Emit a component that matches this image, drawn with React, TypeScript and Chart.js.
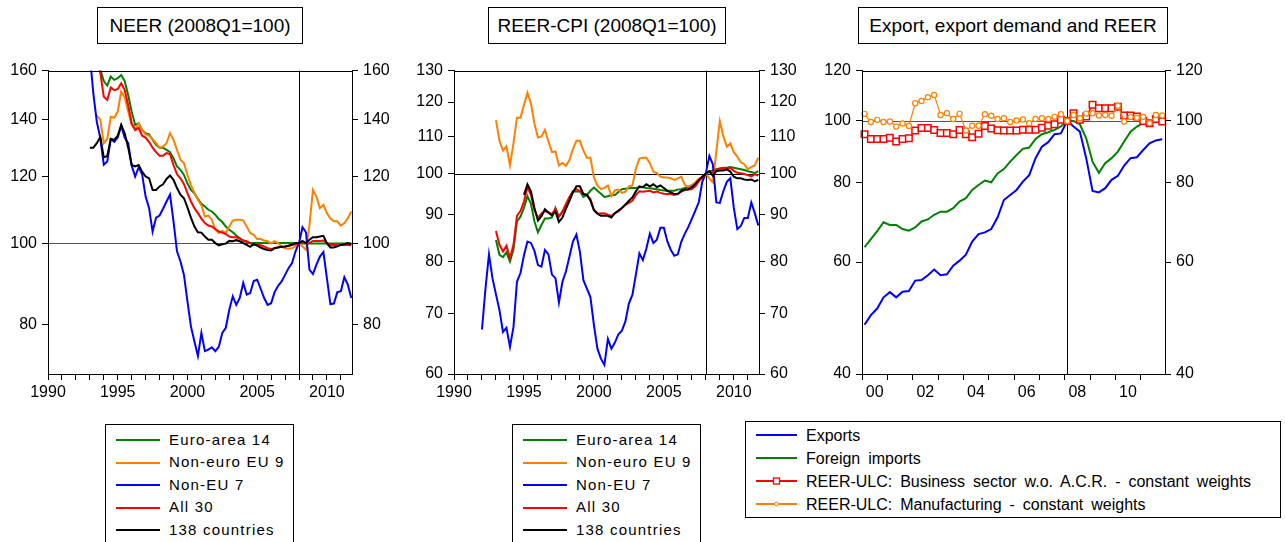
import React, { useEffect, useRef } from "react";
import { Chart, registerables } from "chart.js";

Chart.register(...registerables);

const FONT = '"Liberation Sans", Arial, Helvetica, sans-serif';

const GREEN = "#008000";
const ORANGE = "#FF8000";
const BLUE = "#0000FF";
const RED = "#FF0000";
const BLACK = "#000000";

// ---------- Panel 1: NEER (2008Q1=100), quarterly 1993Q1..2011Q4 ----------
const p1Start = { year: 1993, quarter: 1 };
const neerEA14 = [185, 178, 168, 160.5, 155.5, 153.6, 157.4, 156.0, 156.7, 158.1, 155.5, 149.7, 143.1, 138.0, 138.6, 136.1, 134.9, 134.5, 132.5, 130.7, 129.7, 129.7, 128.9, 128.1, 126.0, 123.2, 122.1, 120.4, 117.7, 115.6, 114.5, 112.8, 111.3, 110.5, 109.5, 109.0, 108.0, 106.8, 105.9, 104.6, 103.7, 103.0, 102.1, 101.4, 100.7, 100.3, 100.0, 100.0, 100, 100, 100, 100, 100, 100, 100, 100, 100, 100, 100, 100, 100, 99.9, 99.9, 99.9, 99.9, 99.9, 99.9, 99.9, 99.9, 99.9, 99.9, 99.9, 99.9, 99.9, 99.9, 99.9];
const neerNonEuro = [null, null, 141.5, 140, 131.3, 132.8, 141.1, 140.7, 143.1, 151.1, 148.7, 143.1, 138.0, 136.4, 138.6, 136.1, 134.5, 134.0, 132.8, 131.3, 129.7, 130.1, 131.3, 134.9, 132.5, 128.9, 125.5, 124.3, 120.4, 117.2, 114.6, 112.5, 110.8, 107.5, 107.8, 106.6, 103.7, 102.8, 103.4, 102.8, 104.6, 106.3, 106.6, 106.6, 106.4, 104.6, 102.8, 102.3, 101.1, 101.1, 100.7, 100.5, 99.9, 100.5, 100.0, 99.0, 98.6, 98.5, 98.6, 99.1, 100, 99.1, 98.2, 105, 115.6, 113.5, 110.0, 111.0, 108.5, 107.0, 106.1, 106.1, 104.9, 105.6, 107.0, 109.0];
const neerNonEU = [167, 150.4, 139.2, 133.1, 123.8, 124.9, 132.8, 131.8, 133.3, 137.7, 133.3, 131.3, 123.5, 119.9, 122.9, 120.6, 113.5, 110.0, 103.2, 107.2, 107.8, 109.8, 112.0, 114.1, 106.1, 97.8, 95.1, 91.7, 85.3, 79.7, 76.5, 73.5, 78.3, 74.5, 74.8, 75.3, 74.5, 75.4, 78.3, 79.4, 83.4, 86.5, 84.5, 86.1, 89.7, 86.9, 87.3, 90.2, 90.5, 88.3, 86.1, 84.5, 84.9, 87.5, 89.0, 90.1, 91.7, 93.4, 94.7, 97.8, 100, 104.4, 103.0, 93.0, 91.9, 94.3, 96.4, 97.6, 90.9, 84.7, 84.8, 87.5, 87.7, 91.1, 89.3, 86.1];
const neerAll30 = [180, 174, 166, 159, 149.0, 147.7, 152.8, 151.7, 152.2, 154.6, 151.7, 145.7, 138.6, 136.1, 136.9, 134.0, 133.3, 131.7, 129.7, 128.1, 126.9, 126.9, 127.8, 127.4, 123.7, 120.6, 119.3, 117.4, 114.6, 112.0, 110.0, 108.5, 106.9, 105.6, 104.9, 104.6, 103.9, 103.2, 102.9, 102.5, 101.8, 101.6, 101.6, 101.2, 100.7, 100.5, 100.0, 99.5, 99.7, 99.4, 99.1, 98.6, 98.4, 98.6, 98.9, 99.0, 99.1, 99.3, 99.5, 99.7, 100, 100.3, 99.9, 100, 100.6, 100.6, 100.6, 100.7, 100, 99.5, 99.5, 99.4, 99.5, 99.5, 99.5, 99.4];
const neer138 = [129.7, 129.7, 131.3, 133.5, 126.3, 126.8, 132.8, 132.5, 134.0, 138.0, 134.9, 129.7, 123.7, 123.2, 123.7, 121.5, 119.9, 119.3, 115.6, 115.6, 116.7, 117.4, 119.1, 120.2, 118.8, 116.2, 114.1, 113.0, 110.2, 107.2, 104.6, 103.0, 102.9, 101.8, 100.9, 100.9, 100.0, 99.4, 99.7, 99.9, 100.6, 100.5, 100.8, 100.5, 100.0, 99.5, 99.0, 99.7, 99.3, 98.8, 98.4, 98.1, 98.0, 98.6, 98.8, 99.0, 99.1, 99.3, 99.6, 100.0, 100, 100.6, 100, 100.9, 101.6, 101.6, 101.8, 102.0, 100.0, 98.8, 98.8, 99.1, 99.5, 99.7, 100.0, 99.7];
const p1YTicks = [80, 100, 120, 140, 160];
const p1YMin = 70;
const p1YMax = 160;

// ---------- Panel 2: REER-CPI (2008Q1=100), quarterly 1992Q1..2011Q4 ----------
const p2Start = { year: 1992, quarter: 1 };
const reerEA14 = [null, null, null, null, 84.4, 81.3, 80.8, 81.8, 79.9, 82.4, 88.5, 89.6, 91.6, 94.4, 92.6, 88.5, 86.1, 87.7, 89.2, 89.2, 89.4, 91.6, 89.6, 90.8, 92.4, 94.0, 95.5, 95.5, 95.6, 94.2, 94.7, 95.7, 96.5, 95.7, 95.0, 94.2, 94.4, 94.7, 94.7, 95.4, 96.1, 96.2, 96.3, 96.4, 96.4, 96.6, 96.6, 96.4, 96.3, 96.2, 96.1, 95.9, 95.8, 95.7, 95.7, 95.7, 96.0, 96.1, 96.4, 96.7, 97.1, 97.6, 98.3, 99.0, 100, 100.5, 100.8, 101.1, 101.3, 101.5, 101.5, 101.7, 101.5, 101.3, 101.1, 100.9, 100.6, 100.4, 100.1, 100.6];
const reerNonEuro = [null, null, null, null, 114.6, 108.7, 106.0, 107.2, 102.1, 108.0, 115.3, 115.3, 119.1, 122.9, 119.6, 113.6, 109.6, 109.9, 111.8, 108.5, 105.6, 105.8, 102.1, 102.7, 102.0, 103.5, 106.4, 108.7, 108.7, 106.0, 104.1, 104.1, 99.0, 97.0, 96.1, 96.4, 97.0, 94.4, 95.8, 96.0, 95.2, 95.5, 96.8, 97.0, 101.2, 103.9, 104.1, 104.1, 102.7, 100.5, 100.1, 99.2, 99.0, 99.0, 98.8, 98.4, 98.8, 99.2, 97.1, 96.7, 97.0, 97.8, 98.7, 99.2, 100, 98.8, 97.8, 105.8, 114.3, 110.0, 107.1, 108.0, 105.6, 104.4, 102.9, 102.4, 101.1, 101.7, 102.1, 104.1];
const reerNonEU = [67.2, 74.6, 81.4, 76.6, 73.5, 70.6, 66.8, 67.5, 64.3, 67.6, 75.9, 77.6, 81.2, 84.1, 83.8, 82.1, 79.2, 78.9, 82.3, 81.4, 77.3, 76.6, 72.0, 75.9, 77.9, 80.9, 84.1, 85.6, 81.9, 76.2, 74.6, 73.0, 68.0, 64.0, 62.4, 61.4, 65.6, 64.0, 65.0, 66.4, 67.0, 68.6, 71.8, 73.4, 77.3, 81.6, 80.2, 82.6, 85.8, 83.8, 84.5, 87.1, 87.1, 84.1, 82.3, 81.1, 81.4, 84.1, 85.8, 87.3, 89.1, 91.0, 93.0, 98.0, 100, 104.6, 102.4, 92.9, 92.8, 95.6, 97.9, 98.8, 91.6, 86.8, 87.5, 89.3, 89.3, 92.9, 90.4, 87.6];
const reerAll30 = [null, null, null, null, 86.4, 83.4, 82.0, 83.2, 80.6, 83.4, 89.8, 90.9, 93.1, 96.6, 94.7, 91.1, 89.3, 90.3, 90.9, 90.6, 90.2, 91.4, 89.6, 90.6, 92.5, 94.2, 95.6, 96.1, 95.6, 95.0, 94.6, 93.7, 91.2, 90.4, 90.3, 90.4, 90.0, 89.8, 90.4, 90.8, 91.6, 92.3, 92.8, 93.3, 94.7, 95.6, 95.5, 95.6, 95.7, 95.3, 95.5, 95.2, 95.0, 94.9, 94.9, 94.7, 94.9, 95.5, 95.9, 96.0, 96.1, 96.8, 98.1, 99.0, 100, 100.5, 100.2, 101.0, 101.3, 101.3, 101.0, 101.5, 100.7, 100.2, 100.1, 99.9, 99.6, 99.3, 99.8, 99.5];
const reer138 = [null, null, null, null, null, null, null, null, null, null, null, null, 94.7, 97.3, 95.6, 91.6, 88.7, 89.7, 91.3, 90.5, 89.9, 90.8, 88.4, 89.4, 91.4, 93.3, 95.3, 96.8, 96.8, 94.9, 94.7, 93.4, 91.1, 90.3, 89.8, 89.8, 89.8, 89.4, 90.4, 91.0, 91.6, 92.4, 93.3, 94.1, 95.6, 96.8, 96.6, 97.3, 96.8, 97.3, 96.6, 97.0, 96.4, 95.7, 95.3, 94.9, 95.0, 95.7, 96.0, 96.1, 96.6, 97.4, 98.4, 99.2, 100, 100.6, 99.4, 100.6, 100.8, 100.8, 101.1, 100.5, 99.2, 98.8, 98.8, 98.5, 98.4, 98.5, 98.0, 98.4];
const p2YTicks = [60, 70, 80, 90, 100, 110, 120, 130];
const p2YMin = 60;
const p2YMax = 130;

// ---------- Panel 3: Export, export demand and REER, quarterly 2000Q1..2011Q4 ----------
const p3Start = { year: 2000, quarter: 1 };
const exportsIdx = [47.8, 49.5, 50.7, 52.8, 53.8, 52.8, 53.9, 54.0, 56.1, 56.2, 57.2, 58.4, 57.2, 57.4, 59.2, 60.3, 61.6, 64.6, 66.4, 66.8, 67.6, 70.5, 75.1, 76.5, 77.9, 80.3, 82.2, 87.4, 91.1, 92.6, 95.3, 95.6, 100, 98.0, 96.2, 87.4, 77.6, 77.2, 78.4, 80.8, 82.0, 85.1, 87.4, 87.7, 90.0, 92.2, 93.2, 93.6];
const foreignImports = [63.3, 65.2, 67.1, 69.3, 68.6, 68.6, 67.6, 67.2, 68.0, 69.5, 70.0, 71.2, 72.0, 72.0, 72.9, 74.7, 75.6, 77.9, 79.3, 80.6, 80.1, 82.7, 84.0, 86.3, 88.4, 90.4, 90.8, 93.7, 95.3, 96.0, 96.8, 98.0, 100, 100, 98.8, 93.9, 86.3, 82.9, 85.8, 87.4, 89.5, 92.8, 96.2, 98.0, 99.2, 99.8, 99.8, 99.2];
const ulcBusiness = [95.3, 93.7, 93.7, 93.7, 94.1, 92.8, 93.7, 93.9, 96.6, 97.5, 97.5, 96.8, 95.7, 95.7, 95.3, 96.8, 95.3, 94.3, 95.5, 98.2, 97.3, 96.7, 96.6, 96.6, 96.6, 96.9, 96.9, 96.9, 97.6, 98.3, 98.8, 100.4, 100, 102.8, 100.4, 101.6, 106.0, 104.7, 104.7, 104.7, 105.3, 102.0, 102.0, 101.6, 100.0, 99.2, 100.7, 99.8];
const ulcManufacturing = [102.6, 99.6, 100.4, 99.6, 99.8, 98.0, 99.1, 98.2, 106.6, 107.5, 109.0, 109.9, 102.2, 102.8, 100.7, 102.6, 96.6, 98.3, 98.3, 102.5, 101.9, 100.7, 101.0, 99.6, 100.2, 100.5, 99.2, 100.7, 101.0, 100.7, 101.5, 102.5, 100, 102.2, 101.0, 102.7, 102.8, 102.0, 102.2, 101.9, 105.7, 99.8, 101.4, 101.2, 101.5, 99.2, 102.2, 102.0];
const p3YTicks = [40, 60, 80, 100, 120];
const p3YMin = 40;
const p3YMax = 120;

// ---------- Axis tick definitions ----------
const p12XTickYears = [1990, 1991, 1992, 1993, 1994, 1995, 1996, 1997, 1998, 1999, 2000, 2001, 2002, 2003, 2004, 2005, 2006, 2007, 2008, 2009, 2010, 2011];
const p12XLabelYears = [1990, 1995, 2000, 2005, 2010];
const p3XTickYears = [2000, 2001, 2002, 2003, 2004, 2005, 2006, 2007, 2008, 2009, 2010, 2011];
const p3XLabelYears = [2000, 2002, 2004, 2006, 2008, 2010];
const baseValue = 100;
const baseYear = 2008;

// converts quarter index into a position on the time axis
function quarterTimes(start: { year: number; quarter: number }, count: number, shift: number): number[] {
  const out: number[] = [];
  for (let i = 0; i < count; i++) {
    const k = start.quarter - 1 + i;
    out.push(start.year + Math.floor(k / 4) + (k % 4) / 4 + shift);
  }
  return out;
}

function series(values: (number | null)[], start: { year: number; quarter: number }, shift: number) {
  const t = quarterTimes(start, values.length, shift);
  return values.map((v, i) => ({ x: t[i], y: v }));
}

function lineDs(label: string, values: (number | null)[], start: any, shift: number, color: string, order: number, extra: any = {}) {
  return {
    label,
    data: series(values, start, shift),
    borderColor: color,
    backgroundColor: color,
    borderWidth: 2,
    pointRadius: 0,
    tension: 0,
    fill: false,
    order,
    clip: 0,
    ...extra,
  };
}

function yAxis(position: string, min: number, max: number, ticks: number[]) {
  return {
    type: "logarithmic",
    position,
    min,
    max,
    afterBuildTicks: (s: any) => {
      s.ticks = ticks.map((v) => ({ value: v }));
    },
    afterFit: (s: any) => {
      s.width = 48;
    },
    ticks: {
      autoSkip: false,
      padding: 5,
      color: "#000",
      font: { family: FONT, size: 16 },
      callback: (v: any) => String(v),
    },
    grid: { drawOnChartArea: false, drawTicks: true, tickLength: 6, color: "#000", tickColor: "#000" },
    border: { display: true, color: "#000", width: 1 },
  };
}

function xAxis(min: number, max: number, tickValues: number[], labelFor: (v: number) => string, tickColor: any) {
  return {
    type: "linear",
    position: "bottom",
    min,
    max,
    afterBuildTicks: (s: any) => {
      s.ticks = tickValues.map((v) => ({ value: v }));
    },
    afterFit: (s: any) => {
      s.height = 28;
    },
    ticks: {
      autoSkip: false,
      maxRotation: 0,
      minRotation: 0,
      padding: 3,
      color: "#000",
      font: { family: FONT, size: 16 },
      callback: (v: any) => labelFor(Number(v)),
    },
    grid: { drawOnChartArea: false, drawTicks: true, tickLength: 6, color: "#000", tickColor },
    border: { display: true, color: "#000", width: 1 },
  };
}

function refPlugin(hColor: string, vx: number) {
  return {
    id: "refLines",
    beforeDatasetsDraw(chart: any) {
      const { ctx, chartArea: a, scales } = chart;
      const y = Math.round(scales.y.getPixelForValue(baseValue)) + 0.5;
      const x = Math.round(scales.x.getPixelForValue(vx)) + 0.5;
      ctx.save();
      ctx.lineWidth = 1;
      ctx.strokeStyle = hColor;
      ctx.beginPath();
      ctx.moveTo(a.left, y);
      ctx.lineTo(a.right, y);
      ctx.stroke();
      ctx.strokeStyle = "#000";
      ctx.beginPath();
      ctx.moveTo(x, a.top);
      ctx.lineTo(x, a.bottom);
      ctx.stroke();
      ctx.restore();
    },
    afterDatasetsDraw(chart: any) {
      const { ctx, chartArea: a } = chart;
      ctx.save();
      ctx.lineWidth = 1;
      ctx.strokeStyle = "#000";
      ctx.strokeRect(Math.round(a.left) + 0.5, Math.round(a.top) + 0.5, Math.round(a.right - a.left), Math.round(a.bottom - a.top));
      ctx.restore();
    },
  };
}

function baseOptions(scales: any) {
  return {
    responsive: false,
    animation: false,
    devicePixelRatio: 1,
    events: [],
    layout: { padding: { top: 10, left: 0, right: 0, bottom: 0 } },
    plugins: { legend: { display: false }, tooltip: { enabled: false }, title: { display: false } },
    scales,
  };
}

const transparentHalf = (ctx: any) => (ctx.tick && Number.isInteger(ctx.tick.value) ? "#000" : "rgba(0,0,0,0)");

function makeP1(): any {
  const shift = 0;
  return {
    type: "line",
    data: {
      datasets: [
        lineDs("Euro-area 14", neerEA14, p1Start, shift, GREEN, 5),
        lineDs("Non-euro EU 9", neerNonEuro, p1Start, shift, ORANGE, 4),
        lineDs("Non-EU 7", neerNonEU, p1Start, shift, BLUE, 3),
        lineDs("All 30", neerAll30, p1Start, shift, RED, 2),
        lineDs("138 countries", neer138, p1Start, shift, BLACK, 1),
      ],
    },
    options: baseOptions({
      x: xAxis(1990, 2011.8, p12XTickYears, (v) => (p12XLabelYears.includes(v) ? String(v) : ""), "#000"),
      y: yAxis("left", p1YMin, p1YMax, p1YTicks),
      y2: yAxis("right", p1YMin, p1YMax, p1YTicks),
    }),
    plugins: [refPlugin("#555", baseYear)],
  };
}

function makeP2(): any {
  const shift = 0;
  return {
    type: "line",
    data: {
      datasets: [
        lineDs("Euro-area 14", reerEA14, p2Start, shift, GREEN, 5),
        lineDs("Non-euro EU 9", reerNonEuro, p2Start, shift, ORANGE, 4),
        lineDs("Non-EU 7", reerNonEU, p2Start, shift, BLUE, 3),
        lineDs("All 30", reerAll30, p2Start, shift, RED, 2),
        lineDs("138 countries", reer138, p2Start, shift, BLACK, 1),
      ],
    },
    options: baseOptions({
      x: xAxis(1990, 2011.8, p12XTickYears, (v) => (p12XLabelYears.includes(v) ? String(v) : ""), "#000"),
      y: yAxis("left", p2YMin, p2YMax, p2YTicks),
      y2: yAxis("right", p2YMin, p2YMax, p2YTicks),
    }),
    plugins: [refPlugin("#000", baseYear)],
  };
}

function makeP3(): any {
  const shift = 0.1;
  const tickVals = [...p3XTickYears, ...p3XLabelYears.map((y) => y + 0.5)].sort((a, b) => a - b);
  return {
    type: "line",
    data: {
      datasets: [
        lineDs("Exports", exportsIdx, p3Start, shift, BLUE, 4, { clip: 3 }),
        lineDs("Foreign imports", foreignImports, p3Start, shift, GREEN, 3, { clip: 3 }),
        lineDs("REER-ULC: Business sector w.o. A.C.R. - constant weights", ulcBusiness, p3Start, shift, RED, 2, {
          borderWidth: 1.5,
          pointStyle: "rect",
          pointRadius: 4.6,
          pointBorderWidth: 1.5,
          pointBackgroundColor: "#fff",
          pointBorderColor: RED,
          clip: 6,
        }),
        lineDs("REER-ULC: Manufacturing - constant weights", ulcManufacturing, p3Start, shift, ORANGE, 1, {
          borderWidth: 1.2,
          pointStyle: "circle",
          pointRadius: 2.6,
          pointBorderWidth: 1.2,
          pointBackgroundColor: "#fff",
          pointBorderColor: ORANGE,
          clip: 6,
        }),
      ],
    },
    options: baseOptions({
      x: xAxis(
        2000,
        2011.96,
        tickVals,
        (v) => (Number.isInteger(v) ? "" : p3XLabelYears.includes(v - 0.5) ? String(v - 0.5).slice(2) : ""),
        transparentHalf
      ),
      y: yAxis("left", p3YMin, p3YMax, p3YTicks),
      y2: yAxis("right", p3YMin, p3YMax, p3YTicks),
    }),
    plugins: [refPlugin("#555", baseYear + shift)],
  };
}

function ChartCanvas({ left, top, width, height, make }: any) {
  const ref = useRef<HTMLCanvasElement | null>(null);
  useEffect(() => {
    const chart = new Chart(ref.current as HTMLCanvasElement, make());
    return () => chart.destroy();
  }, []);
  return (
    <canvas
      ref={ref}
      width={width}
      height={height}
      style={{ position: "absolute", left, top, width, height }}
    />
  );
}

function TitleBox({ left, width, text }: any) {
  return (
    <div
      style={{
        position: "absolute",
        left,
        top: 7,
        width,
        height: 37,
        boxSizing: "border-box",
        border: "1px solid #000",
        display: "flex",
        alignItems: "center",
        justifyContent: "center",
        fontFamily: FONT,
        fontSize: 19,
        color: "#000",
        whiteSpace: "nowrap",
      }}
    >
      {text}
    </div>
  );
}

function Sample({ color, width, marker }: any) {
  return (
    <svg width={width} height={12} style={{ display: "block" }}>
      <line x1={0} y1={6} x2={width} y2={6} stroke={color} strokeWidth={2} />
      {marker === "square" && <rect x={width / 2 - 3} y={3} width={6} height={6} fill="#fff" stroke={color} strokeWidth={1.3} />}
      {marker === "circle" && <circle cx={width / 2} cy={6} r={2} fill="#fff" stroke={color} strokeWidth={1} />}
    </svg>
  );
}

function LegendBox({ left, top, width, height, rowH, padTop, sampleX, sampleW, textX, fontSize, letterSpacing, wordSpacing, items }: any) {
  return (
    <div
      style={{
        position: "absolute",
        left,
        top,
        width,
        height,
        boxSizing: "border-box",
        border: "1px solid #000",
        background: "#fff",
      }}
    >
      {items.map((it: any, i: number) => (
        <div key={i} style={{ position: "absolute", left: 0, top: padTop + i * rowH, height: rowH, width: "100%" }}>
          <div style={{ position: "absolute", left: sampleX, top: rowH / 2 - 6 }}>
            <Sample color={it.color} width={sampleW} marker={it.marker} />
          </div>
          <div
            style={{
              position: "absolute",
              left: textX,
              top: 0,
              lineHeight: `${rowH}px`,
              fontFamily: FONT,
              fontSize,
              letterSpacing,
              wordSpacing,
              whiteSpace: "nowrap",
              color: "#000",
            }}
          >
            {it.label}
          </div>
        </div>
      ))}
    </div>
  );
}

const legend12 = [
  { label: "Euro-area 14", color: GREEN },
  { label: "Non-euro EU 9", color: ORANGE },
  { label: "Non-EU 7", color: BLUE },
  { label: "All 30", color: RED },
  { label: "138 countries", color: BLACK },
];

const legend3 = [
  { label: "Exports", color: BLUE },
  { label: "Foreign imports", color: GREEN },
  { label: "REER-ULC: Business sector w.o. A.C.R. - constant weights", color: RED, marker: "square" },
  { label: "REER-ULC: Manufacturing - constant weights", color: ORANGE, marker: "circle" },
];

export default function App() {
  return (
    <div
      style={{
        position: "absolute",
        left: 0,
        top: 0,
        width: 1285,
        height: 542,
        overflow: "hidden",
        background: "#fff",
      }}
    >
      <TitleBox left={97} width={206} text="NEER (2008Q1=100)" />
      <TitleBox left={488} width={238} text="REER-CPI (2008Q1=100)" />
      <TitleBox left={858} width={310} text="Export, export demand and REER" />

      <ChartCanvas left={0} top={56} width={400} height={346} make={makeP1} />
      <ChartCanvas left={406} top={56} width={401} height={346} make={makeP2} />
      <ChartCanvas left={814} top={56} width={399} height={346} make={makeP3} />

      <LegendBox left={105} top={424} width={189} height={140} rowH={22.5} padTop={3.75} sampleX={10} sampleW={44} textX={63} fontSize={15} letterSpacing={1.2} wordSpacing={0} items={legend12} />
      <LegendBox left={512} top={424} width={189} height={140} rowH={22.5} padTop={3.75} sampleX={10} sampleW={44} textX={63} fontSize={15} letterSpacing={1.2} wordSpacing={0} items={legend12} />
      <LegendBox left={745} top={421} width={536} height={97} rowH={23} padTop={1.8} sampleX={10} sampleW={41} textX={60} fontSize={16} letterSpacing={0} wordSpacing={3.5} items={legend3} />
    </div>
  );
}
